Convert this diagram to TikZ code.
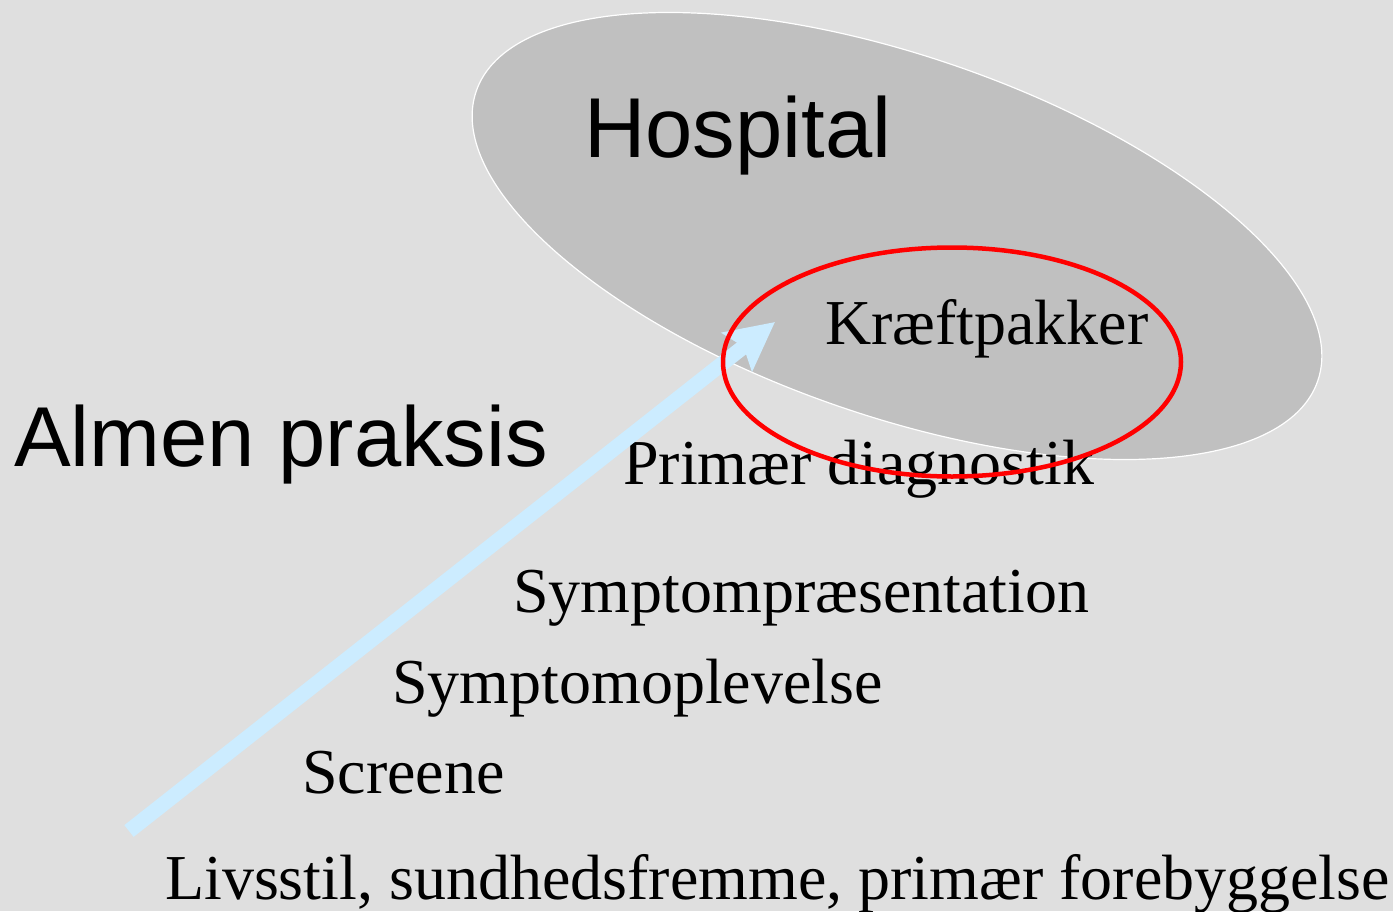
\documentclass[tikz,border=0pt]{standalone}
\usepackage{fontspec}
\setmainfont{Liberation Serif}
\newfontfamily\arialfont{Liberation Sans}
\usetikzlibrary{positioning,arrows.meta,shapes.geometric}

\definecolor{bggray}{HTML}{DFDFDF}
\definecolor{hospgray}{HTML}{C0C0C0}
\definecolor{pathblue}{HTML}{CCECFF}

\begin{document}
\begin{tikzpicture}[x=1pt, y=-1pt,
    big/.style={anchor=base west, inner sep=0pt, font=\arialfont\fontsize{85}{100}\selectfont},
    stage/.style={anchor=base west, inner sep=0pt, font=\fontsize{64}{76}\selectfont}]
    \fill[bggray] (0,0) rectangle (1393,911);
    \useasboundingbox (0,0) rectangle (1393,911);

    \node[ellipse, draw=white, fill=hospgray, line width=1.2pt, inner sep=0pt,
          minimum width=890pt, minimum height=360pt, rotate=-19] (hosp) at (897,236) {};

    \node[big] (h0) at (584,157) {Hospital};
    \node[big] (a0) at (14,466) {Almen praksis};

    \node[stage] (s5) at (825,344) {Kræftpakker};
    \node[stage] (s4) at (623,484) {Primær diagnostik};
    \node[stage] (s3) at (513,612) {Symptompræsentation};
    \node[stage] (s2) at (392,703) {Symptomoplevelse};
    \node[stage] (s1) at (302,793) {Screene};
    \node[stage] (s0) at (165,899) {Livsstil, sundhedsfremme, primær forebyggelse};

    \coordinate (p0) at (129,831);
    \coordinate (p1) at (775,322);
    \draw[pathblue, line width=15pt, -{Stealth[length=48pt, width=48pt, inset=8pt]}] (p0) -- (p1);

    \node[ellipse, draw=red, line width=4.5pt, inner sep=0pt,
          minimum width=458pt, minimum height=229pt] (pack) at (952,362) {};
\end{tikzpicture}
\end{document}
